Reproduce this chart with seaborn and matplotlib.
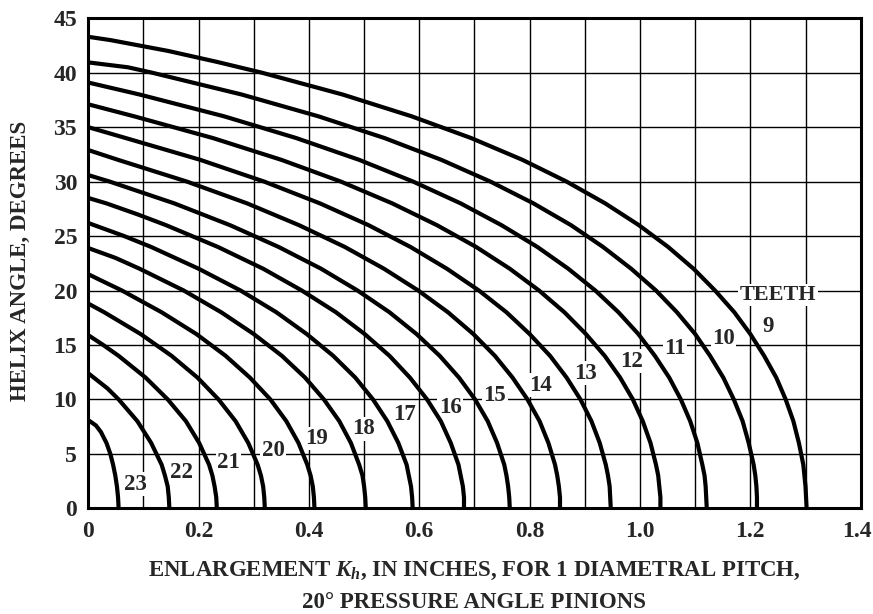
import numpy as np
import pandas as pd
import matplotlib
matplotlib.use("Agg")
import matplotlib.pyplot as plt
import seaborn as sns

# Helix angle (deg) and enlargement K_h (in.)
deg_9 = [0, 1, 2, 3, 4, 6, 8, 10, 12, 14, 16, 18, 20, 22, 24, 26, 28, 30, 32, 34, 36, 38, 40, 41, 42, 43, 43.3]
k_9 = [1.302, 1.301, 1.300, 1.298, 1.296, 1.288, 1.278, 1.264, 1.247, 1.225, 1.200, 1.171, 1.136, 1.097,
       1.051, 0.998, 0.937, 0.867, 0.787, 0.694, 0.586, 0.461, 0.315, 0.233, 0.145, 0.040, 0]
deg_10 = [0, 1, 2, 3, 4, 6, 8, 10, 12, 14, 16, 18, 20, 22, 24, 26, 28, 30, 32, 34, 36, 38, 40, 40.5, 40.95]
k_10 = [1.212, 1.212, 1.211, 1.209, 1.206, 1.197, 1.186, 1.170, 1.151, 1.127, 1.100, 1.067, 1.029, 0.984,
        0.933, 0.875, 0.807, 0.729, 0.640, 0.537, 0.417, 0.278, 0.116, 0.072, 0]
deg_11 = [0, 1, 2, 3, 4, 6, 8, 10, 12, 14, 16, 18, 20, 22, 24, 26, 28, 30, 32, 34, 36, 38, 39.1]
k_11 = [1.121, 1.120, 1.119, 1.117, 1.113, 1.104, 1.091, 1.074, 1.053, 1.027, 0.997, 0.961, 0.919, 0.870,
        0.814, 0.749, 0.675, 0.589, 0.491, 0.377, 0.246, 0.093, 0]
deg_12 = [0, 1, 2, 3, 4, 6, 8, 10, 12, 14, 16, 18, 20, 22, 24, 26, 28, 30, 32, 34, 36, 37.1]
k_12 = [1.037, 1.037, 1.035, 1.033, 1.029, 1.019, 1.005, 0.987, 0.964, 0.936, 0.902, 0.863, 0.817, 0.764,
        0.703, 0.632, 0.551, 0.458, 0.350, 0.226, 0.083, 0]
deg_13 = [0, 1, 2, 3, 4, 6, 8, 10, 12, 14, 16, 18, 20, 22, 24, 26, 28, 30, 32, 34, 35.0]
k_13 = [0.947, 0.946, 0.945, 0.942, 0.938, 0.927, 0.912, 0.892, 0.867, 0.837, 0.800, 0.758, 0.708, 0.650,
        0.584, 0.508, 0.420, 0.319, 0.203, 0.068, 0]
deg_14 = [0, 1, 2, 3, 4, 6, 8, 10, 12, 14, 16, 18, 20, 22, 24, 26, 28, 30, 32, 32.9]
k_14 = [0.855, 0.855, 0.853, 0.850, 0.846, 0.834, 0.818, 0.796, 0.769, 0.737, 0.698, 0.652, 0.598, 0.536,
        0.465, 0.382, 0.288, 0.179, 0.054, 0]
deg_15 = [0, 1, 2, 3, 4, 6, 8, 10, 12, 14, 16, 18, 20, 22, 24, 26, 28, 30, 30.6]
k_15 = [0.764, 0.763, 0.761, 0.758, 0.754, 0.741, 0.724, 0.701, 0.672, 0.637, 0.595, 0.546, 0.488, 0.422,
        0.345, 0.257, 0.156, 0.039, 0]
deg_16 = [0, 1, 2, 3, 4, 6, 8, 10, 12, 14, 16, 18, 20, 22, 24, 26, 27, 28, 28.5]
k_16 = [0.681, 0.681, 0.679, 0.675, 0.671, 0.657, 0.639, 0.614, 0.583, 0.546, 0.501, 0.449, 0.387, 0.317,
        0.235, 0.141, 0.089, 0.033, 0]
deg_17 = [0, 1, 2, 3, 4, 6, 8, 10, 12, 14, 16, 18, 20, 22, 24, 25, 26.2]
k_17 = [0.588, 0.587, 0.585, 0.581, 0.577, 0.562, 0.542, 0.516, 0.484, 0.444, 0.396, 0.341, 0.276, 0.200,
        0.114, 0.065, 0]
deg_18 = [0, 1, 2, 3, 4, 6, 8, 10, 12, 14, 16, 18, 20, 22, 23, 23.9]
k_18 = [0.503, 0.502, 0.500, 0.497, 0.491, 0.476, 0.455, 0.427, 0.393, 0.351, 0.300, 0.241, 0.173, 0.093,
        0.049, 0]
deg_19 = [0, 1, 2, 3, 4, 6, 8, 10, 12, 14, 16, 18, 20, 21, 21.5]
k_19 = [0.410, 0.409, 0.407, 0.403, 0.397, 0.381, 0.359, 0.330, 0.293, 0.249, 0.196, 0.133, 0.061, 0.020, 0]
deg_20 = [0, 1, 2, 3, 4, 6, 8, 10, 12, 14, 16, 18, 18.8]
k_20 = [0.320, 0.319, 0.317, 0.313, 0.307, 0.290, 0.267, 0.236, 0.198, 0.151, 0.095, 0.029, 0]
deg_21 = [0, 1, 2, 3, 4, 6, 8, 10, 12, 14, 15, 15.9]
k_21 = [0.233, 0.232, 0.229, 0.225, 0.219, 0.201, 0.177, 0.144, 0.104, 0.055, 0.027, 0]
deg_22 = [0, 1, 2, 3, 4, 6, 8, 10, 11, 12.4]
k_22 = [0.147, 0.146, 0.144, 0.139, 0.133, 0.114, 0.089, 0.055, 0.035, 0]
deg_23 = [0, 1, 2, 3, 4, 5, 6, 7, 7.6, 8.1]
k_23 = [0.055, 0.054, 0.052, 0.049, 0.045, 0.040, 0.033, 0.023, 0.014, 0]

teeth = [9, 10, 11, 12, 13, 14, 15, 16, 17, 18, 19, 20, 21, 22, 23]
curve_k = [k_9, k_10, k_11, k_12, k_13, k_14, k_15, k_16, k_17, k_18, k_19, k_20, k_21, k_22, k_23]
curve_deg = [deg_9, deg_10, deg_11, deg_12, deg_13, deg_14, deg_15, deg_16, deg_17,
             deg_18, deg_19, deg_20, deg_21, deg_22, deg_23]

# where the tooth-count numbers sit
label_x = [1.233, 1.151, 1.063, 0.984, 0.902, 0.819, 0.737, 0.656, 0.574, 0.498, 0.414, 0.335, 0.254, 0.169, 0.085]
label_y = [16.7, 15.6, 14.7, 13.5, 12.4, 11.3, 10.4, 9.3, 8.6, 7.3, 6.4, 5.3, 4.2, 3.3, 2.2]

x_ticks = [0, 0.2, 0.4, 0.6, 0.8, 1.0, 1.2, 1.4]
x_tick_labels = ["0", "0.2", "0.4", "0.6", "0.8", "1.0", "1.2", "1.4"]

rows = []
for n, ks, ds in zip(teeth, curve_k, curve_deg):
    for k, d in zip(ks, ds):
        rows.append({"teeth": n, "k": k, "deg": d})
df = pd.DataFrame(rows)

sns.set_style("white")
plt.rcParams["font.family"] = ["Liberation Serif", "DejaVu Serif"]
plt.rcParams["font.weight"] = "bold"
plt.rcParams["mathtext.fontset"] = "custom"
plt.rcParams["mathtext.it"] = "Liberation Serif:italic:bold"
plt.rcParams["mathtext.rm"] = "Liberation Serif:bold"

fig = plt.figure(figsize=(8.73, 6.14), dpi=100)
ax = fig.add_axes([0.1011, 0.1722, 0.8848, 0.7980])

sns.lineplot(data=df, x="k", y="deg", units="teeth", estimator=None, sort=False,
             color="black", linewidth=3.0, legend=False, ax=ax, zorder=4)

ax.set_xlim(0, 1.4)
ax.set_ylim(0, 45)
ax.set_xticks(x_ticks)
# last label is drawn by hand so it stays inside the figure
ax.set_xticklabels(x_tick_labels[:-1] + [""])
ax.set_xticks(np.arange(0.1, 1.4, 0.2), minor=True)
ax.set_yticks(np.arange(0, 46, 5))
ax.grid(True, which="both", color="black", linewidth=1.0)
ax.tick_params(axis="both", which="both", length=0, labelsize=17)
ax.tick_params(axis="x", pad=9)
ax.tick_params(axis="y", pad=8)
for lab in ax.get_xticklabels() + ax.get_yticklabels():
    lab.set_fontweight("bold")
ax.annotate(x_tick_labels[-1], xy=(x_ticks[-1], 0), xycoords=("data", "axes fraction"),
            xytext=(-3, -9), textcoords="offset points", ha="center", va="top",
            fontsize=17, fontweight="bold", annotation_clip=False)
for side in ["left", "bottom", "top", "right"]:
    ax.spines[side].set_color("black")
    ax.spines[side].set_linewidth(2.2)
ax.set_xlabel("")
ax.set_ylabel("")

box = dict(facecolor="white", edgecolor="none", pad=1.0)
for n, lx, ly in zip(teeth, label_x, label_y):
    ax.text(lx, ly, str(n), fontsize=16.5, fontweight="bold", ha="center", va="center",
            bbox=box, zorder=3)
ax.text(1.25, 19.6, "TEETH", fontsize=16, fontweight="bold", ha="center", va="center",
        bbox=box, zorder=3)

fig.text(0.5435, 1 - 571 / 614, r"ENLARGEMENT $K_h$, IN INCHES, FOR 1 DIAMETRAL PITCH,",
         fontsize=16.5, fontweight="bold", ha="center", va="center")
fig.text(0.5435, 1 - 602 / 614, "20° PRESSURE ANGLE PINIONS",
         fontsize=16.5, fontweight="bold", ha="center", va="center")
fig.text(20 / 873, 1 - 261 / 614, "HELIX ANGLE, DEGREES", fontsize=16.5, fontweight="bold",
         rotation=90, ha="center", va="center")

fig.savefig("out.png", dpi=100)
